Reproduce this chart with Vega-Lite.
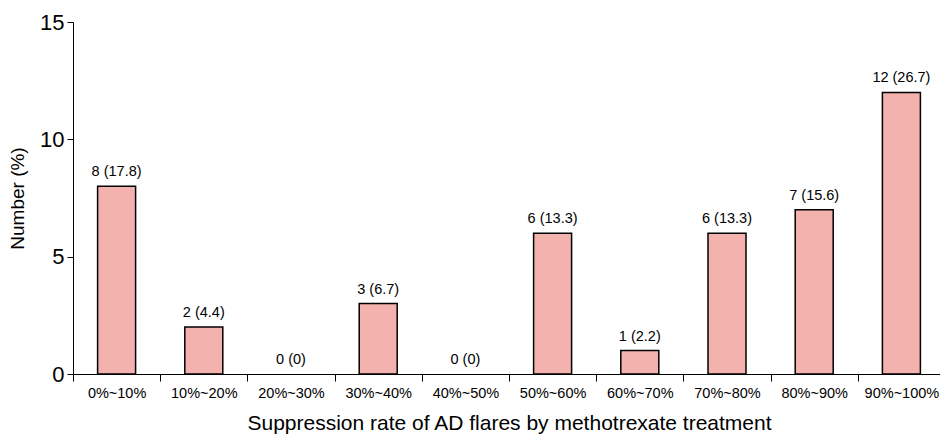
{
  "$schema": "https://vega.github.io/schema/vega-lite/v6.json",
  "width": 872,
  "height": 352,
  "autosize": "none",
  "padding": {"left": 73, "top": 22, "right": 0, "bottom": 62},
  "background": "white",
  "config": {
    "view": {"stroke": null},
    "font": "Liberation Sans",
    "axis": {"domainColor": "black", "tickColor": "black", "labelColor": "black", "titleColor": "black", "grid": false, "titleFontWeight": "normal"}
  },
  "data": {
    "values": [
      {"range": "0%~10%", "n": 8, "label": "8 (17.8)"},
      {"range": "10%~20%", "n": 2, "label": "2 (4.4)"},
      {"range": "20%~30%", "n": 0, "label": "0 (0)"},
      {"range": "30%~40%", "n": 3, "label": "3 (6.7)"},
      {"range": "40%~50%", "n": 0, "label": "0 (0)"},
      {"range": "50%~60%", "n": 6, "label": "6 (13.3)"},
      {"range": "60%~70%", "n": 1, "label": "1 (2.2)"},
      {"range": "70%~80%", "n": 6, "label": "6 (13.3)"},
      {"range": "80%~90%", "n": 7, "label": "7 (15.6)"},
      {"range": "90%~100%", "n": 12, "label": "12 (26.7)"}
    ]
  },
  "encoding": {
    "x": {
      "field": "range", "type": "nominal", "sort": null,
      "scale": {"paddingInner": 0, "paddingOuter": 0, "domain": ["0%~10%", "10%~20%", "20%~30%", "30%~40%", "40%~50%", "50%~60%", "60%~70%", "70%~80%", "80%~90%", "90%~100%"]},
      "axis": {
        "title": "Suppression rate of AD flares by methotrexate treatment",
        "titleFontSize": 21, "titlePadding": 13,
        "labelAngle": 0, "labelFontSize": 14.5, "labelPadding": 5,
        "tickBand": "extent", "tickSize": 7, "labelOverlap": false
      }
    },
    "y": {
      "field": "n", "type": "quantitative",
      "scale": {"domain": [0, 15], "nice": false},
      "axis": {
        "title": "Number (%)", "titleFontSize": 19, "titlePadding": 12,
        "values": [0, 5, 10, 15], "labelFontSize": 22, "labelPadding": 3, "tickSize": 6
      }
    }
  },
  "layer": [
    {
      "transform": [{"filter": "datum.n > 0"}],
      "mark": {"type": "bar", "width": 38, "fill": "#F4B2AE", "stroke": "black", "strokeWidth": 1.5}
    },
    {
      "mark": {"type": "text", "fontSize": 14.5, "dy": -10, "baseline": "alphabetic", "color": "black"},
      "encoding": {"text": {"field": "label"}}
    }
  ]
}
